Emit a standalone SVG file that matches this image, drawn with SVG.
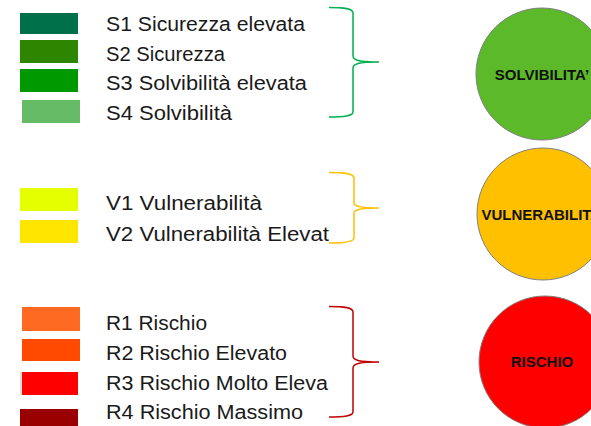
<svg xmlns="http://www.w3.org/2000/svg" width="591" height="426" viewBox="0 0 591 426">
<style>
.lbl{font-family:"Liberation Sans",Arial,sans-serif;font-size:20px;fill:#1a1a1a}
.cl{font-family:"Liberation Sans",Arial,sans-serif;font-size:15px;font-weight:bold;fill:#111;text-anchor:middle}
.brace{fill:none;stroke-width:1.5}
.circ{stroke:#808080;stroke-width:1}
</style>
<rect width="591" height="426" fill="#ffffff"/>
<g id="legend-S">
<g id="S1"><rect x="20" y="13" width="58" height="21" fill="#00704A"/><text class="lbl" x="106" y="31" textLength="199" lengthAdjust="spacingAndGlyphs">S1 Sicurezza elevata</text></g>
<g id="S2"><rect x="20" y="40" width="58" height="23" fill="#2E8500"/><text class="lbl" x="106" y="61" textLength="119" lengthAdjust="spacingAndGlyphs">S2 Sicurezza</text></g>
<g id="S3"><rect x="20" y="69" width="58" height="23" fill="#009900"/><text class="lbl" x="106" y="90" textLength="201" lengthAdjust="spacingAndGlyphs">S3 Solvibilità elevata</text></g>
<g id="S4"><rect x="22" y="100" width="58" height="23" fill="#66BB66"/><text class="lbl" x="106" y="120" textLength="126" lengthAdjust="spacingAndGlyphs">S4 Solvibilità</text></g>
</g>
<g id="legend-V">
<g id="V1"><rect x="20" y="188" width="58" height="23" fill="#E6FF00"/><text class="lbl" x="106" y="210" textLength="156" lengthAdjust="spacingAndGlyphs">V1 Vulnerabilità</text></g>
<g id="V2"><rect x="20" y="220" width="58" height="23" fill="#FFE600"/><text class="lbl" x="106" y="241" textLength="223" lengthAdjust="spacingAndGlyphs">V2 Vulnerabilità Elevat</text></g>
</g>
<g id="legend-R">
<g id="R1"><rect x="22" y="307" width="58" height="24" fill="#FF6A22"/><text class="lbl" x="106" y="330" textLength="101" lengthAdjust="spacingAndGlyphs">R1 Rischio</text></g>
<g id="R2"><rect x="22" y="339" width="58" height="22" fill="#FF4A00"/><text class="lbl" x="106" y="360" textLength="181" lengthAdjust="spacingAndGlyphs">R2 Rischio Elevato</text></g>
<g id="R3"><rect x="20" y="372" width="3" height="23" fill="#DDDDDD"/><rect x="22" y="372" width="56" height="23" fill="#FF0000"/><text class="lbl" x="106" y="390" textLength="222" lengthAdjust="spacingAndGlyphs">R3 Rischio Molto Eleva</text></g>
<g id="R4"><rect x="20" y="409" width="58" height="17" fill="#990000"/><text class="lbl" x="106" y="419" textLength="197" lengthAdjust="spacingAndGlyphs">R4 Rischio Massimo</text></g>
</g>
<g id="connectors">
<path class="brace" stroke="#00B050" d="M329,7.5 C344,7.5 353,8.5 353,13 L353,56 C353,60 358,62 379,62 C358,62 353,64 353,68 L353,112 C353,116 344,117 329,117"/>
<path class="brace" stroke="#FFC000" d="M329,172.5 C344,172.5 354,173.5 354,178 L354,203 C354,206 359,208 379,208 C359,208 354,210 354,213 L354,238 C354,242 344,243 329,243"/>
<path class="brace" stroke="#C00000" d="M329,306.5 C344,306.5 353,307.5 353,312 L353,356 C353,360 358,362 379,362 C358,362 353,364 353,368 L353,412 C353,416 344,417 329,417"/>
</g>
<g id="solvibilita"><circle class="circ" cx="542" cy="74" r="66" fill="#5CBA2A"/><text class="cl" x="542" y="80">SOLVIBILITA’</text></g>
<g id="vulnerabilita"><circle class="circ" cx="543" cy="214" r="66" fill="#FFC000"/><text class="cl" x="543" y="220">VULNERABILITA’</text></g>
<g id="rischio"><circle class="circ" cx="545" cy="362" r="66" fill="#FF0000"/><text class="cl" x="542" y="367">RISCHIO</text></g>
</svg>
